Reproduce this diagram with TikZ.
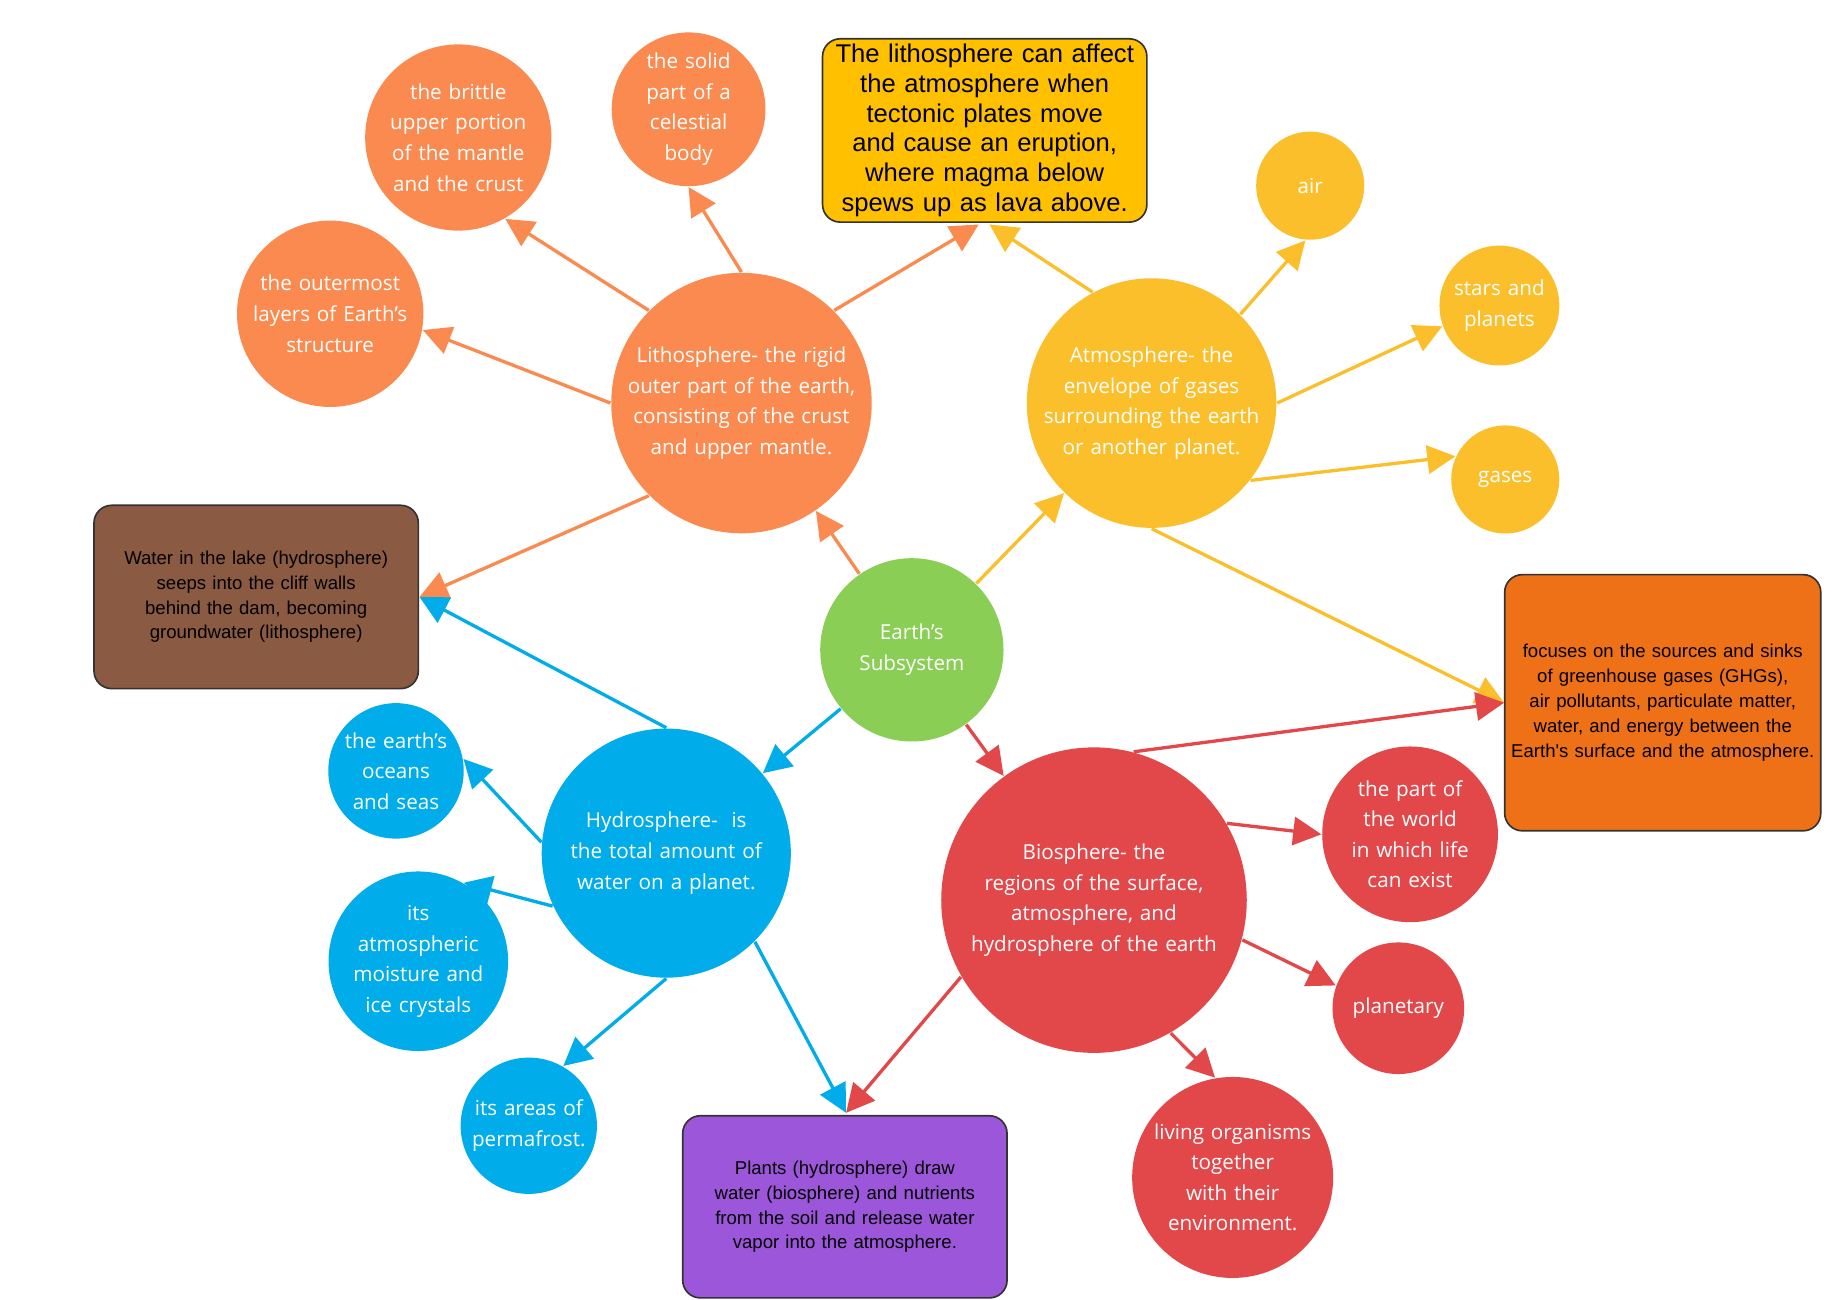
\documentclass[tikz,border=0pt]{standalone}
\usepackage{fontspec}
\setmainfont{Open Sans}
\newfontfamily\boxfont{Liberation Sans}
\usetikzlibrary{arrows.meta}
\hyphenpenalty=10000
\exhyphenpenalty=10000
\definecolor{earthgreen}{HTML}{8ACE55}
\definecolor{lithoorange}{HTML}{FA8A50}
\definecolor{atmoyellow}{HTML}{FBBF2C}
\definecolor{hydroblue}{HTML}{00ACE9}
\definecolor{biored}{HTML}{E2474A}
\definecolor{boxyellow}{HTML}{FFC000}
\definecolor{boxorange}{HTML}{EE7117}
\definecolor{boxbrown}{HTML}{8B5A42}
\definecolor{boxpurple}{HTML}{9C56DA}
\tikzset{
  bub/.style={circle, fill=#1, text=white, align=center, inner sep=0pt,
    font=\fontsize{5}{7.4}\selectfont},
  note/.style={draw=black!80, fill=#1, rounded corners=1.5mm, align=center,
    inner sep=0pt, font=\boxfont\fontsize{4.5}{6}\selectfont},
  link/.style={draw=#1, line width=0.8pt, -{Triangle[length=2.4mm,width=2.4mm]}}
}
\begin{document}
\begin{tikzpicture}[x=0.1mm,y=-0.1mm]
        \useasboundingbox[fill=white] (0,0) rectangle (1565,1106);

        % centre
        \node[bub=earthgreen, minimum size=1.56cm] (earth) at (776,553) {Earth's\\Subsystem};

        % the four spheres
        \node[bub=lithoorange, minimum size=2.12cm, text width=2cm] (litho) at (631,343)
            {Lithosphere- the rigid outer part of the earth, consisting of the crust and upper mantle.};
        \node[bub=atmoyellow, minimum size=2.12cm, text width=1.9cm] (atmo) at (980,343)
            {Atmosphere- the envelope of gases surrounding the earth or another planet.};
        \node[bub=hydroblue, minimum size=2.12cm, text width=1.85cm] (hydro) at (567,726)
            {Hydrosphere-\ \ is the total amount of water on a planet.};
        \node[bub=biored, minimum size=2.6cm, text width=2.3cm] (bio) at (931,766)
            {Biosphere- the regions of the surface, atmosphere, and hydrosphere of the earth};

        % lithosphere leaves
        \node[bub=lithoorange, minimum size=1.44cm, text width=1.3cm] (brittle) at (390,117)
            {the brittle upper portion of the mantle and the crust};
        \node[bub=lithoorange, minimum size=1.22cm, text width=0.9cm] (solid) at (586,93)
            {the solid part of a celestial body};
        \node[bub=lithoorange, minimum size=1.54cm, text width=1.45cm] (outer) at (281,267)
            {the outermost layers of Earth's structure};

        % atmosphere leaves
        \node[bub=atmoyellow, minimum size=0.92cm] (air) at (1115,158) {air};
        \node[bub=atmoyellow, minimum size=1.02cm, text width=0.9cm] (stars) at (1276,260) {stars and planets};
        \node[bub=atmoyellow, minimum size=0.92cm] (gases) at (1281,408) {gases};

        % hydrosphere leaves
        \node[bub=hydroblue, minimum size=1.12cm, text width=0.95cm] (oceans) at (337,656)
            {the earth's oceans and seas};
        \node[bub=hydroblue, minimum size=1.32cm, text width=1.2cm] (moist) at (356,818)
            {its atmospheric moisture and ice crystals};
        \node[bub=hydroblue, minimum size=1.16cm, text width=1.05cm] (perma) at (450,958)
            {its areas of permafrost.};

        % biosphere leaves
        \node[bub=biored, minimum size=1.3cm, text width=1.18cm] (world) at (1200,710)
            {the part of the world in which life can exist};
        \node[bub=biored, minimum size=1.12cm] (planetary) at (1190,858) {planetary};
        \node[bub=biored, minimum size=1.62cm, text width=1.45cm] (living) at (1049,1002)
            {living organisms together with their environment.};

        % boxes
        \node[note=boxyellow, minimum width=2.76cm, minimum height=1.56cm, text width=2.7cm,
            font=\boxfont\fontsize{6.2}{7.2}\selectfont] (lava) at (838,111)
            {The lithosphere can affect the atmosphere when tectonic plates move and cause an eruption, where magma below spews up as lava above.};
        \node[note=boxbrown, minimum width=2.76cm, minimum height=1.56cm, text width=2.62cm] (lake) at (218,508)
            {Water in the lake (hydrosphere) seeps into the cliff walls behind the dam, becoming groundwater (lithosphere)};
        \node[note=boxorange, minimum width=2.69cm, minimum height=2.18cm, text width=2.6cm] (ghg) at (1415,598)
            {focuses on the sources and sinks of greenhouse gases (GHGs), air pollutants, particulate matter, water, and energy between the Earth's surface and the atmosphere.};
        \node[note=boxpurple, minimum width=2.76cm, minimum height=1.55cm, text width=2.65cm] (plants) at (719,1027)
            {Plants (hydrosphere) draw water (biosphere) and nutrients from the soil and release water vapor into the atmosphere.};

        \coordinate (lavaL) at (833,191);
        \coordinate (lavaR) at (842,191);
        \coordinate (lakeR) at (357,508);
        \coordinate (ghgL) at (1280,598);
        \coordinate (plantsT) at (720,947);

        % connectors
        \draw[link=lithoorange] (earth) -- (litho);
        \draw[link=atmoyellow] (earth) -- (atmo);
        \draw[link=hydroblue] (earth) -- (hydro);
        \draw[link=biored] (earth) -- (bio);

        \draw[link=lithoorange] (litho.135) -- (brittle.-60);
        \draw[link=lithoorange] (litho.north) -- (solid.south);
        \draw[link=lithoorange] (litho.west) -- (outer.-10);
        \draw[link=lithoorange] (litho.45) -- (lavaL);
        \draw[link=lithoorange] (litho.-135) -- (lakeR);

        \draw[link=atmoyellow] (atmo.118) -- (lavaR);
        \draw[link=atmoyellow] (atmo.45) -- (air.-95);
        \draw[link=atmoyellow] (atmo.east) -- (stars.200);
        \draw[link=atmoyellow] (atmo.-38) -- (gases.155);
        \draw[link=atmoyellow] (atmo.south) -- (ghgL);

        \draw[link=hydroblue] (hydro.north) -- (lakeR);
        \draw[link=hydroblue] (hydro.175) -- (oceans.10);
        \draw[link=hydroblue] (hydro.205) -- (moist.60);
        \draw[link=hydroblue] (hydro.south) -- (perma.60);
        \draw[link=hydroblue] (hydro.-45) -- (plantsT);

        \draw[link=biored] (bio.75) -- (ghgL);
        \draw[link=biored] (bio.30) -- (world.west);
        \draw[link=biored] (bio.-15) -- (planetary.160);
        \draw[link=biored] (bio.-60) -- (living.100);
        \draw[link=biored] (bio.210) -- (plantsT);
    \end{tikzpicture}
\end{document}
